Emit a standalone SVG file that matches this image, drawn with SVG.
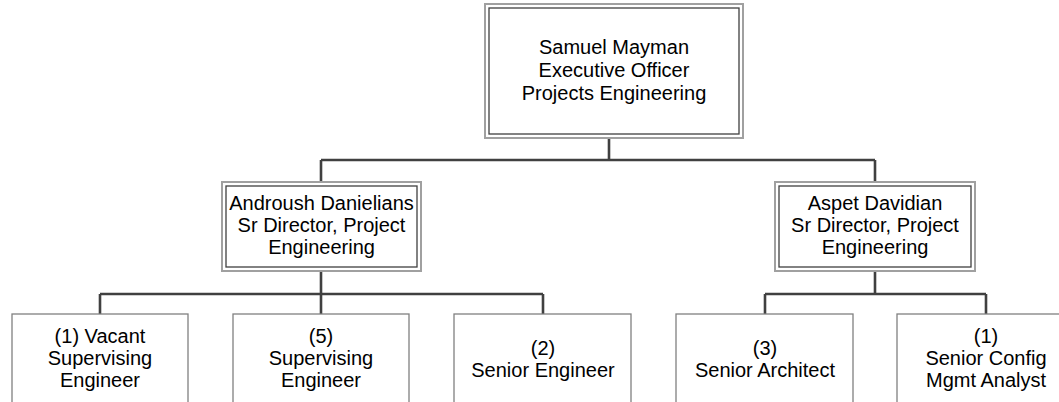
<svg xmlns="http://www.w3.org/2000/svg" width="1059" height="402" viewBox="0 0 1059 402">
<style>
.outer{fill:#fff;stroke:#a0a0a0;stroke-width:2}
.inner{fill:none;stroke:#404040;stroke-width:1.3}
.box{fill:#fff;stroke:#808080;stroke-width:1.3}
.conn{fill:none;stroke:#404040;stroke-width:2.6}
text{font-family:"Liberation Sans",Arial,sans-serif;font-size:20px;fill:#000;text-anchor:middle}
</style>
<rect width="1059" height="402" fill="#fff"/>
<g id="connectors">
<path class="conn" d="M609 138V160M321 160H875M321 160V182M875 160V182"/>
<path class="conn" d="M321 271V294M100 294H543M100 294V314M321 294V314M543 294V314"/>
<path class="conn" d="M875 271V294M765 294H986M765 294V314M986 294V314"/>
</g>
<g id="n-samuel">
<rect class="outer" x="485" y="4" width="258" height="134"/>
<rect class="inner" x="489" y="8" width="250" height="126"/>
<text x="614" y="54">Samuel Mayman</text>
<text x="614" y="77">Executive Officer</text>
<text x="614" y="100">Projects Engineering</text>
</g>
<g id="n-androush">
<rect class="outer" x="222" y="182" width="199" height="89"/>
<rect class="inner" x="226" y="186" width="191" height="81"/>
<text x="321.5" y="210">Androush Danielians</text>
<text x="321.5" y="232">Sr Director, Project</text>
<text x="321.5" y="254">Engineering</text>
</g>
<g id="n-aspet">
<rect class="outer" x="775" y="182" width="200" height="89"/>
<rect class="inner" x="779" y="186" width="192" height="81"/>
<text x="875" y="210">Aspet Davidian</text>
<text x="875" y="232">Sr Director, Project</text>
<text x="875" y="254">Engineering</text>
</g>
<g id="n-vacant">
<rect class="box" x="12" y="314" width="176" height="92"/>
<text x="100" y="343">(1) Vacant</text>
<text x="100" y="365">Supervising</text>
<text x="100" y="387">Engineer</text>
</g>
<g id="n-supervising">
<rect class="box" x="233" y="314" width="176" height="92"/>
<text x="321" y="343">(5)</text>
<text x="321" y="365">Supervising</text>
<text x="321" y="387">Engineer</text>
</g>
<g id="n-senior-eng">
<rect class="box" x="454" y="314" width="177" height="92"/>
<text x="543" y="355">(2)</text>
<text x="543" y="377">Senior Engineer</text>
</g>
<g id="n-architect">
<rect class="box" x="676" y="314" width="177" height="92"/>
<text x="765" y="355">(3)</text>
<text x="765" y="377">Senior Architect</text>
</g>
<g id="n-config">
<rect class="box" x="897" y="314" width="177" height="92"/>
<text x="986" y="343">(1)</text>
<text x="986" y="365">Senior Config</text>
<text x="986" y="387">Mgmt Analyst</text>
</g>
</svg>
